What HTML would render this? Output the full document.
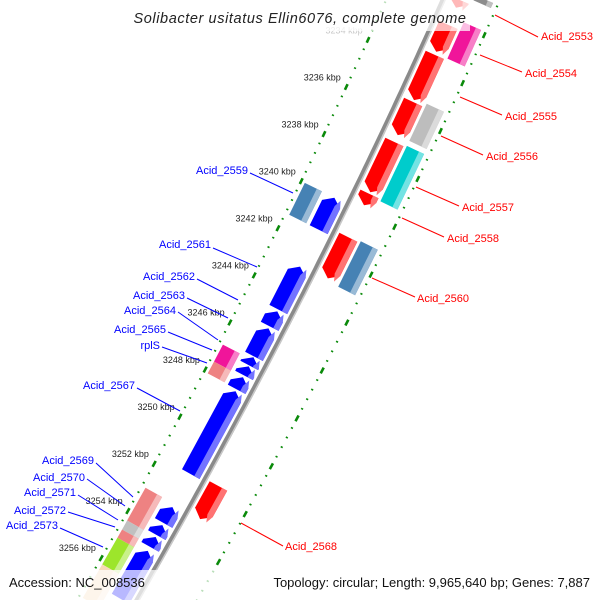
<!DOCTYPE html>
<html><head><meta charset="utf-8"><style>
html,body{margin:0;padding:0;background:#fff;width:600px;height:600px;overflow:hidden;}
svg{display:block;overflow:hidden;font-family:"Liberation Sans","DejaVu Sans",sans-serif;}
</style></head><body>
<svg id="map" width="600" height="600" viewBox="0 0 600 600">
<g id="rulers"></g>
<path id="backbone" fill="none" stroke="#8a8a8a" stroke-width="5"/>
<path id="backbone2" fill="none" stroke="#c8c8c8" stroke-width="1.5"/>
<g id="features"></g>
<g id="ticklabels"></g>
<g id="labels"></g>
<rect x="125" y="0" width="345" height="31" fill="#fff" fill-opacity="0.72"/>
<text x="300" y="23" text-anchor="middle" font-size="14.5" font-style="italic" fill="#222" letter-spacing="0.6">Solibacter usitatus Ellin6076, complete genome</text>
<rect x="0" y="570" width="600" height="30" fill="#fff" fill-opacity="0.72"/>
<text x="9" y="587" font-size="13" fill="#111">Accession: NC_008536</text>
<text x="590" y="587" font-size="13" fill="#111" text-anchor="end">Topology: circular; Length: 9,965,640 bp; Genes: 7,887</text>
</svg>
<script>
// feature data (kbp), strand row, colour, arrow direction
const featStart=[3231.15,3232.20,3233.46,3235.44,3237.12,3239.30,3241.12,3251.57,3230.74,3231.87,3235.28,3237.05,3241.05,3240.01,3242.92,3244.81,3245.53,3246.75,3247.13,3247.59,3248.18,3253.07,3253.83,3254.33,3254.92,3240.0,3246.86,3247.58,3252.93,3254.32,3254.70,3255.05,3256.18];
const featEnd=[3231.48,3233.33,3235.36,3236.83,3239.23,3239.78,3242.85,3252.96,3230.95,3233.39,3236.84,3239.37,3242.95,3241.36,3244.73,3245.44,3246.71,3247.09,3247.51,3248.10,3251.68,3253.74,3254.25,3254.75,3256.94,3241.35,3247.58,3248.08,3254.32,3254.70,3255.05,3256.18,3257.6];
const featRow=[1,1,1,1,1,1,1,1,2,2,2,2,2,-1,-1,-1,-1,-1,-1,-1,-1,-1,-1,-1,-1,-2,-2,-2,-2,-2,-2,-2,-2];
const featColor=["#ff0000","#ff0000","#ff0000","#ff0000","#ff0000","#ff0000","#ff0000","#ff0000","#8c8c8c","#f0159a","#bdbdbd","#00cccc","#4682b4","#0000ff","#0000ff","#0000ff","#0000ff","#0000ff","#0000ff","#0000ff","#0000ff","#0000ff","#0000ff","#0000ff","#0000ff","#4682b4","#f0159a","#ee8282","#ee8282","#c0c0c0","#ee8282","#9de52b","#f7d9b8"];
const featArrow=[1,1,1,1,1,1,1,1,0,0,0,0,0,-1,-1,-1,-1,-1,-1,-1,-1,-1,-1,-1,-1,0,0,0,0,0,0,0,0];
const tickKbp=[3234,3236,3238,3240,3242,3244,3246,3248,3250,3252,3254,3256];
const tickText=["3234 kbp","3236 kbp","3238 kbp","3240 kbp","3242 kbp","3244 kbp","3246 kbp","3248 kbp","3250 kbp","3252 kbp","3254 kbp","3256 kbp"];

const NS="http://www.w3.org/2000/svg";
function yOf(k){return 204+(k-3240)*23.75;}
function xb(y){return 443-0.4433*y-0.000111*y*y;}
function pt(k,r){const y=yOf(k);const d=-0.4433-0.000222*y;const n=Math.sqrt(1+d*d);return [xb(y)+r/n, y+r*(-d)/n];}
function rowR(row){return {1:[5,25],2:[28,47],"-1":[-25,-5],"-2":[-48,-29]}[row];}
function mk(tag,attrs,parent){const e=document.createElementNS(NS,tag);for(const a in attrs)e.setAttribute(a,attrs[a]);parent.appendChild(e);return e;}
function lighten(c){const v=parseInt(c.slice(1),16);let r=v>>16,g=(v>>8)&255,b=v&255;r=Math.round(r+(255-r)*0.45);g=Math.round(g+(255-g)*0.45);b=Math.round(b+(255-b)*0.45);return "rgb("+r+","+g+","+b+")";}
function poly(k1,k2,r1,r2,arrow){
  const h=0.28;let p=[];
  if(arrow===1){p=[pt(k1,r1),pt(k2-h,r1),pt(k2,(r1+r2)/2),pt(k2-h,r2),pt(k1,r2)];}
  else if(arrow===-1){p=[pt(k1+h,r1),pt(k2,r1),pt(k2,r2),pt(k1+h,r2),pt(k1,(r1+r2)/2)];}
  else{p=[pt(k1,r1),pt(k2,r1),pt(k2,r2),pt(k1,r2)];}
  return p.map(q=>q[0].toFixed(1)+","+q[1].toFixed(1)).join(" ");
}
// backbone
let d="";for(let k=3230;k<=3257.5;k+=0.25){const q=pt(k,0);d+=(d?"L":"M")+q[0].toFixed(1)+","+q[1].toFixed(1);}
document.getElementById("backbone").setAttribute("d",d);
let d2="";for(let k=3230;k<=3257.5;k+=0.25){const q=pt(k,1.8);d2+=(d2?"L":"M")+q[0].toFixed(1)+","+q[1].toFixed(1);}
document.getElementById("backbone2").setAttribute("d",d2);
// rulers
const rg=document.getElementById("rulers");
[-52,52].forEach(r=>{
  for(let i=0;i<=70;i++){const k=3229.6+i*0.4;
    if(Math.abs(k/2-Math.round(k/2))<0.05) continue;
    const a=pt(k-0.03,r),b=pt(k+0.03,r);
    const e=mk("line",{x1:a[0],y1:a[1],x2:b[0],y2:b[1],stroke:"#0a8a0a","stroke-width":2.2},rg);
    
    
  }
  for(let k=3230;k<=3258;k+=2){const a=pt(k-0.12,r),b=pt(k+0.12,r);
    const e=mk("line",{x1:a[0],y1:a[1],x2:b[0],y2:b[1],stroke:"#0a8a0a","stroke-width":2.6},rg);
    
    
  }
});
// features
const fg=document.getElementById("features");
for(let i=0;i<featStart.length;i++){
  const rr=rowR(featRow[i]);
  const e=mk("polygon",{points:poly(featStart[i],featEnd[i],rr[0],rr[1],featArrow[i]),fill:featColor[i]},fg);
  
  
  const w=rr[1]-rr[0];
  const s=mk("polygon",{points:poly(featStart[i],featEnd[i],rr[1]-w*0.3,rr[1],featArrow[i]),fill:lighten(featColor[i])},fg);
  
  
}
// tick labels
const tg=document.getElementById("ticklabels");
for(let i=0;i<tickKbp.length;i++){
  const q=pt(tickKbp[i],-58);
  const t=mk("text",{x:q[0].toFixed(1),y:(q[1]-4).toFixed(1),"text-anchor":"end","font-size":9,fill:tickKbp[i]===3234?"#c8c8c8":"#222"},tg);
  t.textContent=tickText[i];
  
  
}
// gene labels: [text, x, y, anchor, line x1,y1,x2,y2, colour]
const lab=[
["Acid_2553",541,40,"start",495,15,538,37,"#f00"],
["Acid_2554",525,77,"start",480,55,522,72,"#f00"],
["Acid_2555",505,120,"start",460,97,502,115,"#f00"],
["Acid_2556",486,160,"start",441,136,483,155,"#f00"],
["Acid_2557",462,211,"start",416,187,459,206,"#f00"],
["Acid_2558",447,242,"start",402,218,444,237,"#f00"],
["Acid_2560",417,302,"start",372,278,415,297,"#f00"],
["Acid_2568",285,550,"start",241,523,283,546,"#f00"],
["Acid_2559",248,174,"end",250,173,293,193,"#00f"],
["Acid_2561",211,248,"end",213,248,257,267,"#00f"],
["Acid_2562",195,280,"end",197,279,238,300,"#00f"],
["Acid_2563",185,299,"end",187,298,228,318,"#00f"],
["Acid_2564",176,314,"end",178,312,218,340,"#00f"],
["Acid_2565",166,333,"end",168,332,212,350,"#00f"],
["rplS",160,349,"end",162,347,207,363,"#00f"],
["Acid_2567",135,389,"end",137,388,180,411,"#00f"],
["Acid_2569",94,464,"end",96,463,133,497,"#00f"],
["Acid_2570",85,481,"end",87,479,125,506,"#00f"],
["Acid_2571",76,496,"end",78,495,118,520,"#00f"],
["Acid_2572",66,514,"end",68,512,115,527,"#00f"],
["Acid_2573",58,529,"end",60,528,103,547,"#00f"]];
const lg=document.getElementById("labels");
lab.forEach(L=>{
  const l=mk("line",{x1:L[4],y1:L[5],x2:L[6],y2:L[7],stroke:L[8],"stroke-width":1},lg);
  
  
  const t=mk("text",{x:L[1],y:L[2],"text-anchor":L[3],"font-size":11,fill:L[8]},lg);
  t.textContent=L[0];
  
  
});
</script>
</body></html>
